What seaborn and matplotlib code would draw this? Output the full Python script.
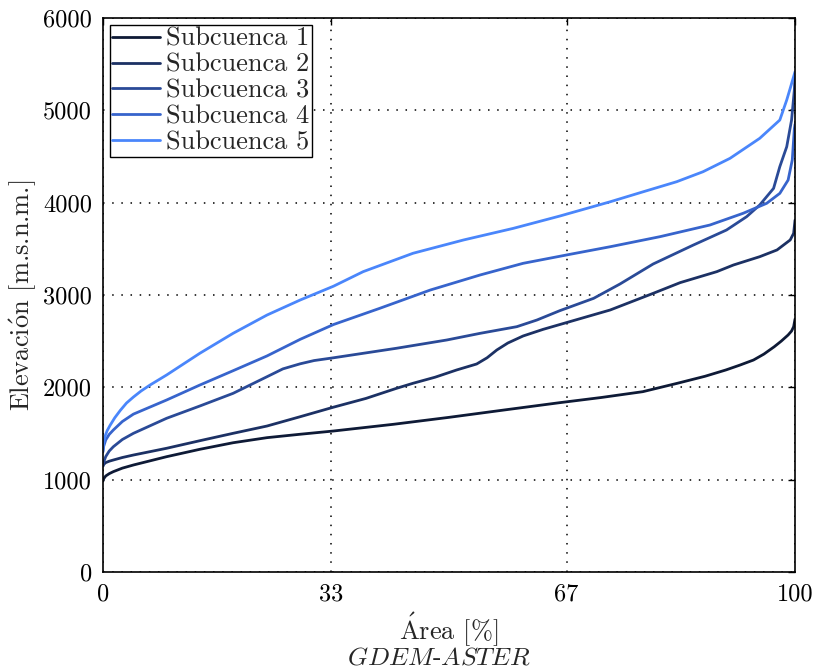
import matplotlib
matplotlib.use("Agg")
import matplotlib.pyplot as plt
import seaborn as sns
import pandas as pd

# Hypsometric curves: cumulative area [%] vs elevation [m.s.n.m.]
sub1_area = [0, 0.1, 0.4, 0.9, 1.5, 2.8, 4.4, 9.2, 14, 18.8, 23.7, 28.5, 33.3, 42, 50, 58, 66,
             72, 78, 83, 87, 90, 92, 94, 95.5, 97, 98, 99, 99.5, 99.8, 100]
sub1_elev = [985, 1010, 1040, 1065, 1087, 1125, 1159, 1249, 1329, 1400, 1455, 1492, 1527, 1600,
             1675, 1755, 1834, 1890, 1953, 2044, 2120, 2188, 2240, 2296, 2360, 2440, 2500, 2567,
             2610, 2657, 2740]

sub2_area = [0, 0.1, 0.4, 0.9, 1.5, 2.8, 4.4, 9.2, 14, 18.8, 23.7, 28.5, 33.3, 38, 42.4, 44.8,
             48, 51.1, 54, 55.5, 56.9, 58.5, 60.7, 63.6, 66, 73.3, 79.5, 83.4, 88.7, 91.1, 94.9,
             97.4, 99.3, 99.8, 100]
sub2_elev = [1148, 1165, 1185, 1200, 1213, 1240, 1267, 1340, 1422, 1502, 1581, 1682, 1785, 1880,
             1989, 2044, 2110, 2188, 2253, 2320, 2404, 2480, 2556, 2628, 2680, 2838, 3018, 3134,
             3253, 3325, 3415, 3488, 3596, 3668, 3812]

sub3_area = [0, 0.1, 0.4, 0.9, 1.5, 2.8, 4.4, 9.2, 14, 18.8, 23.7, 26, 28.5, 30.5, 33.3, 42.4,
             49.7, 54.5, 59.8, 62.7, 66, 70.9, 74.7, 79.5, 85.3, 90.1, 93, 94.9, 96.9, 97.8, 98.8,
             99.5, 99.9, 100]
sub3_elev = [1148, 1190, 1250, 1310, 1357, 1435, 1502, 1665, 1798, 1935, 2115, 2200, 2255, 2290,
             2320, 2423, 2513, 2585, 2657, 2729, 2830, 2964, 3119, 3336, 3541, 3704, 3848, 3975,
             4155, 4390, 4606, 4895, 5220, 5380]

sub4_area = [0, 0.1, 0.4, 0.9, 1.5, 2.8, 4.4, 9.2, 14, 18.8, 23.7, 28.5, 33.3, 40, 47.3, 54.5,
             60.7, 67.5, 73.3, 80.5, 87.7, 92.5, 95.9, 97.8, 99, 99.6, 99.9, 100]
sub4_elev = [1300, 1360, 1430, 1490, 1538, 1630, 1710, 1863, 2025, 2180, 2340, 2520, 2680, 2856,
             3054, 3217, 3343, 3441, 3523, 3632, 3758, 3885, 3993, 4101, 4245, 4462, 4800, 4850]

sub5_area = [0, 0.1, 0.3, 0.6, 1, 1.7, 2.5, 3.4, 4.4, 5.5, 6.8, 9.2, 14, 18.8, 23.7, 28.5, 33.3,
             37.6, 44.8, 52.1, 59.3, 66, 73.3, 78.1, 82.9, 86.7, 90.6, 94.9, 97.8, 98.8, 99.3, 100]
sub5_elev = [1320, 1400, 1470, 1530, 1585, 1670, 1750, 1830, 1895, 1960, 2025, 2134, 2369, 2585,
             2783, 2946, 3095, 3253, 3452, 3596, 3722, 3855, 4010, 4119, 4227, 4335, 4480, 4697,
             4895, 5112, 5238, 5418]

names = ["Subcuenca 1", "Subcuenca 2", "Subcuenca 3", "Subcuenca 4", "Subcuenca 5"]
colors = ["#0e1a36", "#1c3164", "#2a4a97", "#3764cc", "#4a86fb"]
x_ticks = [0, 33, 67, 100]
y_ticks = [0, 1000, 2000, 3000, 4000, 5000, 6000]

frames = []
for name, a, e in zip(names,
                      [sub1_area, sub2_area, sub3_area, sub4_area, sub5_area],
                      [sub1_elev, sub2_elev, sub3_elev, sub4_elev, sub5_elev]):
    frames.append(pd.DataFrame({"area": a, "elev": e, "serie": name}))
df = pd.concat(frames, ignore_index=True)

sns.set_style("white")
plt.rcParams["font.family"] = ["cmr10", "DejaVu Serif"]
plt.rcParams["mathtext.fontset"] = "cm"
plt.rcParams["axes.formatter.use_mathtext"] = True

fig = plt.figure(figsize=(8.14, 6.72), dpi=100)
ax = fig.add_axes([0.1265, 0.1488, 0.8502, 0.8244])

sns.lineplot(data=df, x="area", y="elev", hue="serie", palette=colors,
             hue_order=names, sort=False, estimator=None, linewidth=2.0, ax=ax)

ax.set_xlim(0, 100)
ax.set_ylim(0, 6000)
ax.set_xticks(x_ticks)
ax.set_xticklabels([str(t) for t in x_ticks])
ax.set_yticks(y_ticks)
ax.set_yticklabels([str(t) for t in y_ticks])
ax.tick_params(direction="in", length=5, width=1, top=True, right=True,
               labelsize=17.5, colors="black", pad=8)
ax.grid(True, color="black", linestyle=(0, (1, 5)), linewidth=1.1)
for s in ax.spines.values():
    s.set_color("black")
    s.set_linewidth(1.2)

ax.set_xlabel(r"$\mathrm{\acute{A}}$rea [%]", fontsize=19, labelpad=4)
ax.set_ylabel(r"Elevaci$\mathrm{\acute{o}}$n [m.s.n.m.]", fontsize=19, labelpad=3)
fig.text(0.539, 0.004, r"$GDEM$-$ASTER$", ha="center", va="bottom", fontsize=18.5)

leg = ax.legend(loc="upper left", fontsize=19, frameon=True, fancybox=False,
                borderaxespad=0.25, borderpad=0.1, labelspacing=0.08,
                handlelength=1.8, handletextpad=0.25)
leg.get_frame().set_edgecolor("black")
leg.get_frame().set_linewidth(1.0)
leg.get_frame().set_alpha(1)

fig.savefig("out.png", dpi=100)
